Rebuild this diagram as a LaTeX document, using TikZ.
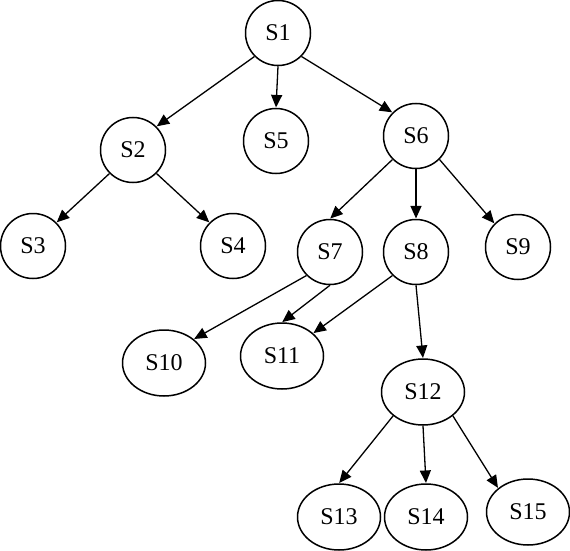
\documentclass[tikz,border=0pt]{standalone}
\usepackage{fontspec}
\setmainfont{Liberation Serif}
\usetikzlibrary{arrows.meta,shapes.geometric}
\begin{document}
\begin{tikzpicture}[x=1pt,y=-1pt,
  every node/.style={font=\fontsize{24}{26}\selectfont},
  circ/.style={draw,circle,line width=1.5pt,minimum size=65pt,inner sep=0pt},
  ell/.style={draw,ellipse,line width=1.5pt,minimum width=83pt,minimum height=66pt,inner sep=0pt},
  arr/.style={line width=1.3pt,-{Triangle[length=12.5pt,width=11pt]},shorten >=0.3pt}]
\useasboundingbox (0,0) rectangle (570,551);
\node[circ] (s1) at (278,33) {S1};
\node[circ] (s2) at (133,150) {S2};
\node[circ] (s5) at (276,141) {S5};
\node[circ] (s6) at (416,136) {S6};
\node[circ] (s3) at (33,246) {S3};
\node[circ] (s4) at (233,246) {S4};
\node[circ] (s7) at (330,252) {S7};
\node[circ] (s8) at (416,252) {S8};
\node[circ] (s9) at (518,247) {S9};
\node[ell] (s10) at (164,363) {S10};
\node[ell] (s11) at (282,356) {S11};
\node[ell] (s12) at (423,392) {S12};
\node[ell] (s13) at (339,517) {S13};
\node[ell] (s14) at (426,517) {S14};
\node[ell] (s15) at (528,512) {S15};
\draw[arr] (s1.south west) -- (s2.north east);
\draw[arr] (s1.south) -- (s5.north);
\draw[arr] (s1.south east) -- (s6.north west);
\draw[arr] (s2.south west) -- (s3.north east);
\draw[arr] (s2.south east) -- (s4.north west);
\draw[arr] (s6.south west) -- (s7.north);
\draw[arr] (s6.south) -- (s8.north);
\draw[arr] (s6.south east) -- (s9.north west);
\draw[arr] (s7.south west) -- (s10.north east);
\draw[arr] (s7.south) -- (s11.north);
\draw[arr] (s8.south west) -- (s11);
\draw[arr] (s8.south) -- (s12.north);
\draw[arr] (s12.south west) -- (s13.north);
\draw[arr] (s12.south) -- (s14.north);
\draw[arr] (s12.south east) -- (s15.north west);
\end{tikzpicture}
\end{document}
